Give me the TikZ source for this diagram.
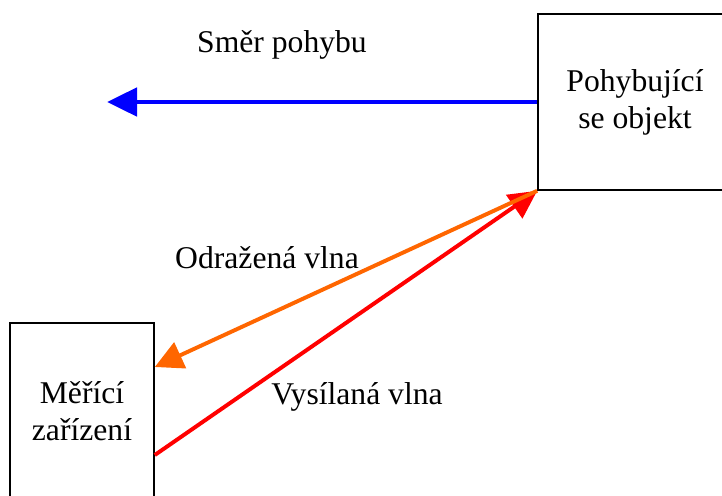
\documentclass[tikz,border=0pt]{standalone}
\usepackage{fontspec}
\setmainfont{Liberation Serif}
\usetikzlibrary{arrows.meta}
\definecolor{odraz}{RGB}{255,102,0}

\begin{document}
\begin{tikzpicture}[x=0.025cm,y=-0.025cm,
    every node/.style={font=\fontsize{22.5}{26.3}\selectfont,align=center},
    box/.style={draw,line width=1.1pt,minimum height=4.4cm},
    wave/.style={line width=2.8pt,-{Triangle[length=0.7cm,width=0.7cm]}}]
      \clip (0,0) rectangle (722,495);
      \draw
        (635,102) node[box,minimum width=4.85cm] (obj){Pohybující\\se objekt}
        (82,411) node[box,minimum width=3.6cm] (mer){Měřící\\zařízení};
      \coordinate (smer) at (107,102);
      % popisky
      \node (lsmer) at (282,45) {Směr pohybu};
      \node (lodr) at (267,258) {Odražená vlna};
      \node (lvys) at (357,397) {Vysílaná vlna};
      \begin{scope}
        \draw[blue,line width=3.5pt,-{Triangle[length=0.75cm,width=0.7cm]}] (obj.west) -- (smer);
        \draw[wave,red] ([yshift=-1.1cm]mer.east) -- (obj.south west);
        \draw[wave,odraz] (obj.south west) -- ([yshift=1.1cm]mer.east);
      \end{scope}
    \end{tikzpicture}
\end{document}
